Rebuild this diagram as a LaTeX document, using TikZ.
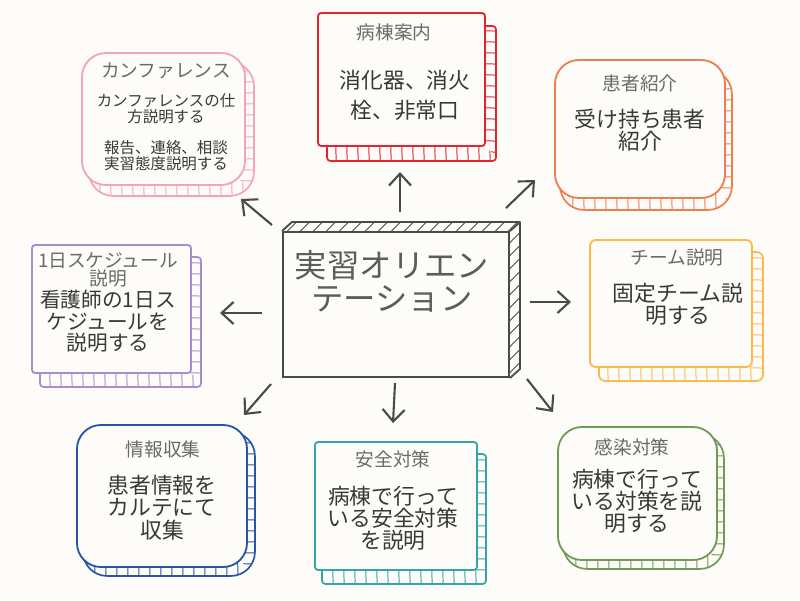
\documentclass[tikz,border=0pt]{standalone}
\usepackage{fontspec}
\setmainfont{Noto Sans CJK JP}
\usepackage{tikz}
\usetikzlibrary{arrows.meta}
\usepackage{xcolor}
\definecolor{Paper}{HTML}{FDFCF8}
\definecolor{HubGray}{HTML}{4A4A4A}
\definecolor{TitleGray}{HTML}{6A6A6A}
\definecolor{BodyGray}{HTML}{383838}
\definecolor{CardPink}{HTML}{F5A3B6}
\definecolor{CardRed}{HTML}{E52330}
\definecolor{CardOrange}{HTML}{EF7D4F}
\definecolor{CardPurple}{HTML}{A78CCF}
\definecolor{CardYellow}{HTML}{FDB94D}
\definecolor{CardBlue}{HTML}{2855A6}
\definecolor{CardTeal}{HTML}{36A4A6}
\definecolor{CardGreen}{HTML}{709A58}

\pgfdeclarelayer{bg}
\pgfsetlayers{bg,main}

% hatched back face of a card: node, colour, corner radius, dx, dy
\newcommand\hatchbox[5]{%
  \begin{pgfonlayer}{bg}
    \begin{scope}
      \clip[rounded corners=#3] ([shift={(#4,#5)}]#1.north west) rectangle ([shift={(#4,#5)}]#1.south east);
      % bottom band: upright rungs
      \begin{scope}
        \clip ([shift={(-300,-300)}]#1.south east) -- ([shift={(300,300)}]#1.south east) -- ([shift={(-300,300)}]#1.south east) -- cycle;
        \foreach \k in {0,...,17}
          \draw[#2,line width=0.7pt] ([shift={(\k*11-4,-30)}]#1.south west) -- +(1.5,60);
      \end{scope}
      % right band: flat rungs
      \begin{scope}
        \clip ([shift={(-300,-300)}]#1.south east) -- ([shift={(300,300)}]#1.south east) -- ([shift={(300,-300)}]#1.south east) -- cycle;
        \foreach \k in {0,...,15}
          \draw[#2,line width=0.7pt] ([shift={(-30,\k*11-4)}]#1.north east) -- +(60,1.5);
      \end{scope}
    \end{scope}
    \draw[#2,line width=1.2pt,rounded corners=#3] ([shift={(#4,#5)}]#1.north west) rectangle ([shift={(#4,#5)}]#1.south east);
  \end{pgfonlayer}}

\begin{document}
\begin{tikzpicture}[x=0.025cm,y=-0.025cm,>={Straight Barb[length=3mm,width=5.5mm]},
  card/.style={draw,fill=Paper,line width=1.3pt,inner sep=0pt},
  ttl/.style={text=TitleGray,font=\fontsize{13.3}{13}\selectfont,align=center},
  txt/.style={text=BodyGray,font=\fontsize{15.5}{15.8}\selectfont,align=center},
  arr/.style={->,draw=HubGray,line width=1.5pt}]
\useasboundingbox (0,0) rectangle (800,600);
\begin{pgfonlayer}{bg}
  \fill[Paper] (0,0) rectangle (800,600);
\end{pgfonlayer}

% centre
\node[card,draw=HubGray,line width=1.4pt,minimum width=56.5mm,minimum height=36.25mm] (hub) at (396,304.5) {};
\node[text=HubGray!90,font=\fontsize{23}{23.5}\selectfont,align=center] (hubT) at (392,281.5) {実習オリエン\\テーション};
\begin{pgfonlayer}{bg}
  \begin{scope}
    \clip (hub.north west) -- ([shift={(10,-9)}]hub.north west) -- ([shift={(10,-9)}]hub.north east)
      -- ([shift={(10,-9)}]hub.south east) -- (hub.south east) -- cycle;
    \foreach \k in {-18,...,18}
      \draw[HubGray,line width=0.7pt] ([shift={(\k*13-130,130)}]hub.center) -- ([shift={(\k*13+130,-130)}]hub.center);
  \end{scope}
  \draw[HubGray,line width=1.3pt,line join=round] (hub.north west) -- ([shift={(10,-9)}]hub.north west)
    -- ([shift={(10,-9)}]hub.north east) -- ([shift={(10,-9)}]hub.south east) -- (hub.south east);
  \draw[HubGray,line width=1.3pt] (hub.north east) -- ([shift={(10,-9)}]hub.north east);
\end{pgfonlayer}

% cards
\node[card,draw=CardPink,rounded corners=6mm,minimum width=40.75mm,minimum height=33mm] (kanf) at (163.5,119) {};
\node[ttl] (kanfT) at (166,71) {カンファレンス};
\node[txt,font=\fontsize{11}{11.4}\selectfont] (kanfB) at (166,132.5) {カンファレンスの仕\\方説明する\\[10.6pt]報告、連絡、相談\\実習態度説明する};
\hatchbox{kanf}{CardPink}{6mm}{8}{10}

\node[card,draw=CardRed,rounded corners=0.8mm,minimum width=41.75mm,minimum height=33.25mm] (anai) at (401.5,79.5) {};
\node[ttl] (anaiT) at (394,32) {病棟案内};
\node[txt,font=\fontsize{15.5}{21.3}\selectfont] (anaiB) at (405,95) {消化器、消火\\栓、非常口};
\hatchbox{anai}{CardRed}{0.8mm}{10}{14}

\node[card,draw=CardOrange,rounded corners=6mm,minimum width=42.5mm,minimum height=34.5mm] (shokai) at (640,129) {};
\node[ttl] (shokaiT) at (640,83) {患者紹介};
\node[txt] (shokaiB) at (640,130) {受け持ち患者\\紹介};
\hatchbox{shokai}{CardOrange}{6mm}{6}{11}

\node[card,draw=CardPurple,rounded corners=0.8mm,minimum width=39.75mm,minimum height=32mm] (sched) at (111.5,309) {};
\node[ttl,font=\fontsize{13.3}{12.8}\selectfont] (schedT) at (108,270) {1日スケジュール\\説明};
\node[txt,font=\fontsize{14.7}{15.3}\selectfont] (schedB) at (108,321.5) {看護師の1日ス\\ケジュールを\\説明する};
\hatchbox{sched}{CardPurple}{0.8mm}{9}{13}

\node[card,draw=CardYellow,rounded corners=1.5mm,minimum width=40.5mm,minimum height=31.75mm] (team) at (671,303.5) {};
\node[ttl] (teamT) at (677,257) {チーム説明};
\node[txt] (teamB) at (678,304) {固定チーム説\\明する};
\hatchbox{team}{CardYellow}{1.5mm}{10}{13}

\node[card,draw=CardBlue,rounded corners=6mm,minimum width=42.5mm,minimum height=35.5mm] (joho) at (162,496) {};
\node[ttl] (johoT) at (163,449) {情報収集};
\node[txt] (johoB) at (162,507.5) {患者情報を\\カルテにて\\収集};
\hatchbox{joho}{CardBlue}{6mm}{7}{8}

\node[card,draw=CardTeal,rounded corners=0.8mm,minimum width=40.5mm,minimum height=32mm] (anzen) at (396,506) {};
\node[ttl] (anzenT) at (393,459) {安全対策};
\node[txt] (anzenB) at (393,518) {病棟で行って\\いる安全対策\\を説明};
\hatchbox{anzen}{CardTeal}{0.8mm}{8}{13}

\node[card,draw=CardGreen,rounded corners=6mm,minimum width=39.75mm,minimum height=33.25mm] (kansen) at (637.5,493.5) {};
\node[ttl] (kansenT) at (632,447) {感染対策};
\node[txt] (kansenB) at (637,501) {病棟で行って\\いる対策を説\\明する};
\hatchbox{kansen}{CardGreen}{6mm}{6}{8}

% arrows out of the centre
\coordinate (a1s) at (272,225); \coordinate (a1e) at (241,199);
\coordinate (a2s) at (400,212); \coordinate (a2e) at (400,172);
\coordinate (a3s) at (506,208); \coordinate (a3e) at (535,180);
\coordinate (a4s) at (262,313); \coordinate (a4e) at (220,313);
\coordinate (a5s) at (530,302); \coordinate (a5e) at (571,302);
\coordinate (a6s) at (271,384); \coordinate (a6e) at (244,415);
\coordinate (a7s) at (395,383); \coordinate (a7e) at (393,423);
\coordinate (a8s) at (527,379); \coordinate (a8e) at (553,412);
\foreach \i in {1,...,8}
  \draw[arr] (a\i s) -- (a\i e);
\end{tikzpicture}
\end{document}
